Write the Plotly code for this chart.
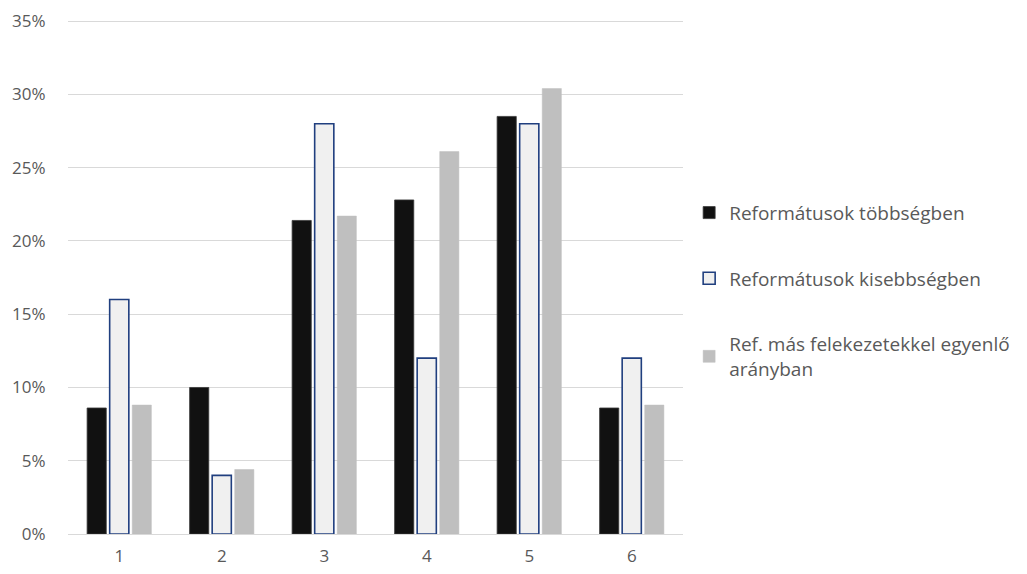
import plotly.graph_objects as go

categories = ["1", "2", "3", "4", "5", "6"]
series_names = [
    "Reformátusok többségben",
    "Reformátusok kisebbségben",
    "Ref. más felekezetekkel egyenlő<br>arányban",
]
tobbseg = [8.6, 10.0, 21.4, 22.8, 28.5, 8.6]
kisebbseg = [16.0, 4.0, 28.0, 12.0, 28.0, 12.0]
egyenlo = [8.8, 4.4, 21.7, 26.1, 30.4, 8.8]
y_ticks = [0, 5, 10, 15, 20, 25, 30, 35]
y_tick_labels = [f"{v}%" for v in y_ticks]

fig = go.Figure()
fig.add_trace(go.Bar(x=categories, y=tobbseg, name=series_names[0], legendgroup="a",
                     marker=dict(color="#111111", line=dict(color="#3a3a3a", width=0.8))))
fig.add_trace(go.Bar(x=categories, y=kisebbseg, name=series_names[1], legendgroup="b",
                     marker=dict(color="#F0F0F0", line=dict(color="#203F7F", width=1.6))))
fig.add_trace(go.Bar(x=categories, y=egyenlo, name=series_names[2], legendgroup="c",
                     marker=dict(color="#BFBFBF", line=dict(color="#BFBFBF", width=0.5))))

fig.update_layout(
    width=1019, height=566,
    margin=dict(l=60, r=344, t=12, b=40, autoexpand=False),
    plot_bgcolor="white", paper_bgcolor="white",
    barmode="group", bargap=0.34, bargroupgap=0.15,
    font=dict(family="Open Sans, sans-serif", color="#595959", size=17),
    legend=dict(x=1.01, xanchor="left", y=0.662, yanchor="top",
                font=dict(size=19, color="#595959"), tracegroupgap=38,
                traceorder="grouped", itemwidth=30),
    showlegend=True,
)
fig.update_yaxes(range=[0, 35.08], tickvals=y_ticks, ticktext=y_tick_labels,
                 showgrid=True, gridcolor="#D9D9D9", gridwidth=1.3,
                 zeroline=False, showline=False, ticks="outside", ticklen=18,
                 tickcolor="rgba(0,0,0,0)",
                 tickfont=dict(size=17, color="#595959"))
fig.update_xaxes(showline=True, linecolor="#D9D9D9", linewidth=1.3, ticks="outside",
                 ticklen=6, tickcolor="rgba(0,0,0,0)",
                 tickfont=dict(size=17, color="#595959"))

fig.write_html("out.html")
